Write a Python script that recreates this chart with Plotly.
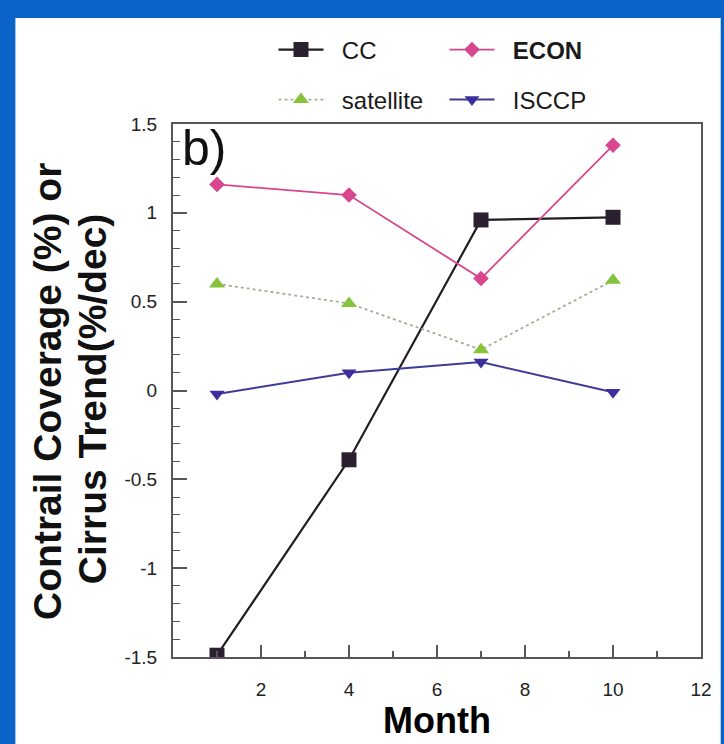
import plotly.graph_objects as go

months = [1, 4, 7, 10]
cc = [-1.49, -0.39, 0.96, 0.975]
econ = [1.16, 1.10, 0.63, 1.38]
satellite = [0.60, 0.49, 0.23, 0.62]
isccp = [-0.02, 0.10, 0.16, -0.01]

x_ticks = [2, 4, 6, 8, 10, 12]
y_ticks = [-1.5, -1, -0.5, 0, 0.5, 1, 1.5]
y_ticktext = ["-1.5", "-1", "-0.5", "0", "0.5", "1", "1.5"]

W, H = 724, 744
L, R, T, B = 173, 15, 124, 87
PW, PH = W - L - R, H - T - B

def px(x):
    return (x - L) / PW

def py(y):
    return (H - B - y) / PH

FONT = "Arial, Liberation Sans, Helvetica, sans-serif"
BLUE = "#0a64c8"
PAD = "\u00a0\u00a0"

fig = go.Figure()
fig.add_trace(go.Scatter(
    x=months, y=cc, name=PAD + "CC", mode="lines+markers",
    line=dict(color="#231c24", width=2.2),
    marker=dict(symbol="square", size=15, color="#2b2030", line=dict(width=0)),
    legend="legend"))
fig.add_trace(go.Scatter(
    x=months, y=econ, name=PAD + "<b>ECON</b>", mode="lines+markers",
    line=dict(color="#d8468f", width=1.8),
    marker=dict(symbol="diamond", size=12, color="#d8468f", line=dict(width=0)),
    legend="legend"))
fig.add_trace(go.Scatter(
    x=months, y=satellite, name=PAD + "satellite", mode="lines+markers",
    line=dict(color="#a7ae96", width=1.8, dash="dot"),
    marker=dict(symbol="triangle-up", size=14, color="#86c23c", line=dict(width=0)),
    legend="legend2"))
fig.add_trace(go.Scatter(
    x=months, y=isccp, name=PAD + "ISCCP", mode="lines+markers",
    line=dict(color="#3d3c98", width=2),
    marker=dict(symbol="triangle-down", size=13, color="#3c2f9c", line=dict(width=0)),
    legend="legend2"))

axis_common = dict(
    showgrid=False, zeroline=False, showline=True, linecolor="#5a5558",
    linewidth=2, mirror=True, ticks="inside", tickcolor="#5a5558",
    tickwidth=1.5, tickfont=dict(family=FONT, size=19, color="#222222"),
)

fig.update_xaxes(
    range=[0, 12], tickvals=x_ticks, ticklen=12,
    minor=dict(dtick=1, tick0=1, ticks="inside", ticklen=6, tickcolor="#5a5558", tickwidth=1.5),
    ticklabelstandoff=14,
    title=dict(text="<b>Month</b>", font=dict(family=FONT, size=36, color="#000000"), standoff=0),
    **axis_common)
fig.update_yaxes(
    range=[-1.5, 1.5], tickvals=y_ticks, ticktext=y_ticktext, ticklen=14,
    minor=dict(dtick=0.1, tick0=0, ticks="inside", ticklen=7, tickcolor="#5a5558", tickwidth=1.2),
    ticklabelstandoff=10,
    **axis_common)

legend_common = dict(
    orientation="h", xanchor="left", yanchor="middle",
    bgcolor="rgba(0,0,0,0)", borderwidth=0, itemwidth=45,
    entrywidth=111, entrywidthmode="pixels",
    font=dict(family=FONT, size=24, color="#1a1a1a"),
    itemclick=False, itemdoubleclick=False,
)
fig.update_layout(
    width=W, height=H,
    margin=dict(l=L, r=R, t=T, b=B, pad=0),
    paper_bgcolor=BLUE, plot_bgcolor="#ffffff",
    showlegend=True,
    legend=dict(x=px(275), y=py(50), **legend_common),
    legend2=dict(x=px(275), y=py(100), **legend_common),
    shapes=[dict(type="rect", xref="paper", yref="paper",
                 x0=px(13), x1=px(W + 5), y0=py(H + 5), y1=py(18),
                 fillcolor="#ffffff", line=dict(width=0), layer="below")],
    annotations=[
        dict(text="<b>Contrail Coverage (%) or</b>", textangle=-90,
             xref="paper", yref="paper", x=px(45), y=py(391),
             xanchor="center", yanchor="middle", showarrow=False,
             font=dict(family=FONT, size=39, color="#111111")),
        dict(text="<b>Cirrus Trend(%/dec)</b>", textangle=-90,
             xref="paper", yref="paper", x=px(91), y=py(399),
             xanchor="center", yanchor="middle", showarrow=False,
             font=dict(family=FONT, size=39, color="#111111")),
        dict(text="b)", xref="paper", yref="paper", x=px(180), y=py(118),
             xanchor="left", yanchor="top", showarrow=False,
             font=dict(family=FONT, size=50, color="#111111")),
    ],
)

fig.write_html(
    "out.html",
    config={"displayModeBar": False},
    post_script=("document.body.style.margin='0';"
                 "document.body.style.background='" + BLUE + "';"),
)
